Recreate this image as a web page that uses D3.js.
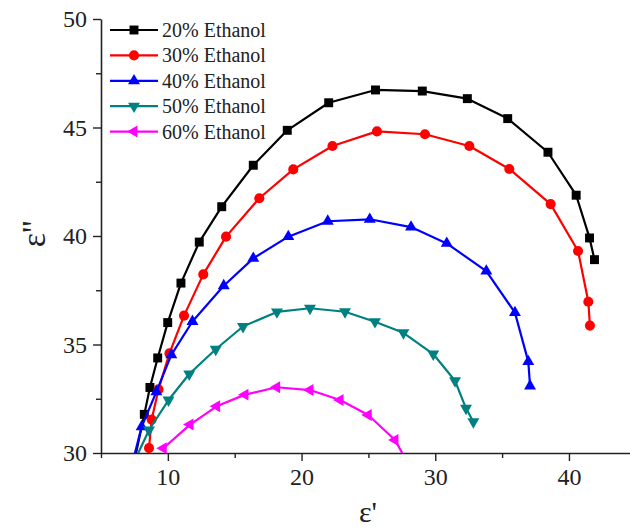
<!DOCTYPE html>
<html>
<head>
<meta charset="utf-8">
<script src="https://cdn.jsdelivr.net/npm/d3@7"></script>
<style>
  html, body { margin: 0; padding: 0; background: #fff; }
  svg { display: block; }
  text { font-family: "Liberation Serif", "Times New Roman", serif; fill: #222; }
</style>
</head>
<body>
<svg id="chart" width="630" height="531" font-family="Liberation Serif, Times New Roman, serif"></svg>
<script>
// Cole-Cole plots: loss factor (ε'') against permittivity (ε') for ethanol solutions
const seriesLabels = ["20% Ethanol", "30% Ethanol", "40% Ethanol", "50% Ethanol", "60% Ethanol"];

const realEth20 = [7.48, 8.24, 8.66, 9.24, 9.99, 10.98, 12.35, 14.03, 16.39, 18.93, 22.03, 25.53, 29.03, 32.40, 35.42, 38.43, 40.54, 41.54, 41.91];
const imagEth20 = [29.59, 31.78, 33.02, 34.38, 36.01, 37.83, 39.72, 41.35, 43.26, 44.87, 46.14, 46.73, 46.68, 46.33, 45.41, 43.86, 41.88, 39.91, 38.91];

const realEth30 = [8.59, 8.79, 9.30, 10.12, 11.21, 12.65, 14.35, 16.84, 19.38, 22.31, 25.64, 29.23, 32.55, 35.54, 38.63, 40.68, 41.45, 41.57];
const imagEth30 = [30.23, 31.54, 32.93, 34.59, 36.33, 38.23, 39.97, 41.74, 43.07, 44.15, 44.82, 44.69, 44.15, 43.09, 41.47, 39.31, 36.97, 35.87];

const realEth40 = [7.37, 8.04, 9.14, 10.26, 11.84, 14.18, 16.39, 19.01, 21.96, 25.10, 28.19, 30.86, 33.82, 35.96, 36.96, 37.09];
const imagEth40 = [29.59, 31.21, 32.82, 34.52, 36.06, 37.71, 38.97, 39.97, 40.68, 40.77, 40.41, 39.66, 38.38, 36.47, 34.21, 33.09];

const realEth50 = [7.48, 8.59, 10.05, 11.60, 13.58, 15.62, 18.16, 20.63, 23.25, 25.49, 27.62, 29.85, 31.48, 32.30, 32.85];
const imagEth50 = [29.59, 31.06, 32.44, 33.64, 34.78, 35.83, 36.50, 36.67, 36.51, 36.05, 35.54, 34.56, 33.33, 32.06, 31.44];

const realEth60 = [9.66, 11.66, 13.65, 15.77, 18.14, 20.63, 22.88, 24.99, 26.99, 28.02];
const imagEth60 = [30.22, 31.31, 32.15, 32.69, 33.03, 32.90, 32.44, 31.75, 30.60, 29.45];

const xTickLabels = [10, 20, 30, 40];
const xMinorTicks = [5, 15, 25, 35, 45];
const yTickLabels = [30, 35, 40, 45, 50];
const yMinorTicks = [32.5, 37.5, 42.5, 47.5];

const colors = ["#000000", "#ff0000", "#0000ff", "#008080", "#ff00ff"];

const series = [
  { label: seriesLabels[0], xs: realEth20, ys: imagEth20, symbol: d3.symbolSquare, size: 80, rotate: 0 },
  { label: seriesLabels[1], xs: realEth30, ys: imagEth30, symbol: d3.symbolCircle, size: 80, rotate: 0 },
  { label: seriesLabels[2], xs: realEth40, ys: imagEth40, symbol: d3.symbolTriangle, size: 62, rotate: 0 },
  { label: seriesLabels[3], xs: realEth50, ys: imagEth50, symbol: d3.symbolTriangle, size: 62, rotate: 180 },
  { label: seriesLabels[4], xs: realEth60, ys: imagEth60, symbol: d3.symbolTriangle, size: 62, rotate: -90 }
].map((s, i) => ({ ...s, color: colors[i], points: s.xs.map((x, j) => ({ x, y: s.ys[j] })) }));

const svg = d3.select("#chart");
const plotLeft = 101, plotTop = 19, plotBottom = 453;
const serif = '"Liberation Serif", "Times New Roman", serif';

const x = d3.scaleLinear().domain([5, 45]).range([plotLeft, plotLeft + 40 * 13.37]);
const y = d3.scaleLinear().domain([30, 50]).range([plotBottom, plotTop]);

svg.append("defs").append("clipPath").attr("id", "plot-clip")
  .append("rect").attr("x", plotLeft).attr("y", plotTop - 10)
  .attr("width", 630 - plotLeft).attr("height", plotBottom - plotTop + 10);

// Axes: left and bottom only, ticks pointing outward
const axisColor = "#222";

function styleAxis(g) {
  g.attr("font-family", serif);
  g.select(".domain").attr("stroke", axisColor).attr("stroke-width", 1.6);
  g.selectAll(".tick line").attr("stroke", axisColor).attr("stroke-width", 1.4);
  g.selectAll(".tick text").attr("font-size", 24).attr("fill", axisColor)
    .style("font-family", serif);
}

const xAxis = svg.append("g").attr("transform", `translate(0,${plotBottom})`)
  .call(d3.axisBottom(x).tickValues(xTickLabels).tickSize(8).tickSizeOuter(0).tickPadding(7).tickFormat(d3.format("d")));
styleAxis(xAxis);
svg.append("g").attr("transform", `translate(0,${plotBottom})`)
  .call(d3.axisBottom(x).tickValues(xMinorTicks).tickSize(5).tickFormat(""))
  .call(g => { g.select(".domain").remove(); g.selectAll("line").attr("stroke", axisColor).attr("stroke-width", 1.4); });

const yAxis = svg.append("g").attr("transform", `translate(${plotLeft},0)`)
  .call(d3.axisLeft(y).tickValues(yTickLabels).tickSize(8).tickSizeOuter(0).tickPadding(6).tickFormat(d3.format("d")));
styleAxis(yAxis);
svg.append("g").attr("transform", `translate(${plotLeft},0)`)
  .call(d3.axisLeft(y).tickValues(yMinorTicks).tickSize(5).tickFormat(""))
  .call(g => { g.select(".domain").remove(); g.selectAll("line").attr("stroke", axisColor).attr("stroke-width", 1.4); });

// Axis titles
svg.append("text")
  .attr("transform", "translate(45,234) rotate(-90)")
  .attr("text-anchor", "middle")
  .attr("font-size", 34)
  .style("font-family", serif)
  .text("ε''");

svg.append("text")
  .attr("x", 368).attr("y", 522)
  .attr("text-anchor", "middle")
  .attr("font-size", 30)
  .style("font-family", serif)
  .text("ε'");

// Series lines and markers
const plot = svg.append("g").attr("clip-path", "url(#plot-clip)");
const line = d3.line().x(d => x(d.x)).y(d => y(d.y));

series.forEach(s => {
  plot.append("path")
    .datum(s.points)
    .attr("fill", "none")
    .attr("stroke", s.color)
    .attr("stroke-width", 2.2)
    .attr("stroke-linejoin", "round")
    .attr("d", line);

  const sym = d3.symbol().type(s.symbol).size(s.size);
  plot.selectAll(null)
    .data(s.points)
    .join("path")
    .attr("d", sym)
    .attr("fill", s.color)
    .attr("transform", d => `translate(${x(d.x)},${y(d.y)}) rotate(${s.rotate})`);
});

// Legend
const legend = svg.append("g");
series.forEach((s, i) => {
  const ly = 30 + i * 25.4;
  const row = legend.append("g").attr("transform", `translate(0,${ly})`);
  row.append("line").attr("x1", 110).attr("x2", 158).attr("y1", 0).attr("y2", 0)
    .attr("stroke", s.color).attr("stroke-width", 2.2);
  row.append("path").attr("d", d3.symbol().type(s.symbol).size(s.size)())
    .attr("fill", s.color)
    .attr("transform", `translate(134,0) rotate(${s.rotate})`);
  row.append("text").attr("x", 162).attr("y", 0).attr("dy", "0.35em")
    .attr("font-size", 20)
    .style("font-family", serif)
    .text(s.label);
});
</script>
</body>
</html>
